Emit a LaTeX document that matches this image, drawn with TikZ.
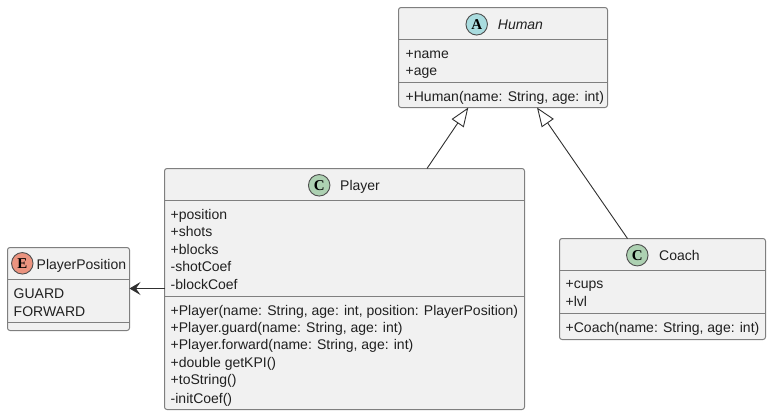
\documentclass[tikz,border=0pt]{standalone}
\usepackage{fontspec}
\setmainfont{Liberation Sans}
\newfontfamily\spotfont{Liberation Serif}
\usetikzlibrary{arrows.meta}
\definecolor{boxfill}{HTML}{F1F1F1}
\definecolor{boxline}{HTML}{7F7F7F}
\definecolor{ink}{HTML}{202020}
\definecolor{linkc}{HTML}{303030}
\definecolor{spotA}{HTML}{A9DCDF}
\definecolor{spotC}{HTML}{ADD1B2}
\definecolor{spotE}{HTML}{EB937F}
\tikzset{
  umlbox/.style={draw=boxline,fill=boxfill,line width=1pt,rounded corners=2.5pt,inner sep=0pt,outer sep=0pt,anchor=north west},
  sepline/.style={draw=boxline,line width=1pt},
  member/.style={anchor=base west,inner sep=0pt,text=ink,font=\fontsize{14}{14}\selectfont},
  title/.style={member,font=\fontsize{14}{14}\selectfont},
  spot/.style={circle,draw=ink!80,line width=.9pt,minimum size=21.5pt,inner sep=0pt,font=\spotfont\bfseries\fontsize{15}{15}\selectfont,text=black},
  inherit/.style={draw=linkc,line width=.9pt,-{Triangle[open,length=19pt,width=14.5pt,fill=white]}},
  assoc/.style={draw=linkc,line width=.9pt,-{Stealth[length=11pt,width=13pt,inset=4.5pt]}}
}
\begin{document}
\begin{tikzpicture}[x=1pt,y=-1pt]
\useasboundingbox (0,0) rectangle (771,415);
% boxes
\node[umlbox,minimum width=209pt,minimum height=100pt] (human) at (398.5,7.5) {};
\node[umlbox,minimum width=360pt,minimum height=241pt] (player) at (164.5,168.5) {};
\node[umlbox,minimum width=206pt,minimum height=101pt] (coach) at (559.5,238.5) {};
\node[umlbox,minimum width=122pt,minimum height=83pt] (enumpos) at (7.5,247.5) {};
% separators
\draw[sepline] (human.west |- 0,39.5) -- (human.east |- 0,39.5);
\draw[sepline] (human.west |- 0,82.5) -- (human.east |- 0,82.5);
\draw[sepline] (player.west |- 0,200.5) -- (player.east |- 0,200.5);
\draw[sepline] (player.west |- 0,296.5) -- (player.east |- 0,296.5);
\draw[sepline] (coach.west |- 0,270.5) -- (coach.east |- 0,270.5);
\draw[sepline] (coach.west |- 0,313.5) -- (coach.east |- 0,313.5);
\draw[sepline] (enumpos.west |- 0,279.5) -- (enumpos.east |- 0,279.5);
\draw[sepline] (enumpos.west |- 0,322.5) -- (enumpos.east |- 0,322.5);
% spots
\node[spot,fill=spotA] (spothuman) at (476.7,24.3) {A};
\node[spot,fill=spotC] (spotplayer) at (319.2,185.3) {C};
\node[spot,fill=spotC] (spotcoach) at (637.3,255.2) {C};
\node[spot,fill=spotE] (spotenum) at (22.3,263.3) {E};
% titles
\node[title,font=\fontsize{14}{14}\selectfont\itshape] (thuman) at (497.7,29) {Human};
\node[title] (tplayer) at (340,190) {Player};
\node[title] (tcoach) at (659,260) {Coach};
\node[title] (tenum) at (36.5,269) {PlayerPosition};
% Human members
\node[member] (h1) at (405.5,58) {+name};
\node[member] (h2) at (405.5,75) {+age};
\node[member] (h3) at (405.5,101) {+Human(name: String, age: int)};
% Player members
\node[member] (p1) at (170.5,219) {+position};
\node[member] (p2) at (170.5,236) {+shots};
\node[member] (p3) at (170.5,254) {+blocks};
\node[member] (p4) at (170.5,271) {-shotCoef};
\node[member] (p5) at (170.5,289) {-blockCoef};
\node[member] (p6) at (170.5,315) {+Player(name: String, age: int, position: PlayerPosition)};
\node[member] (p7) at (170.5,332) {+Player.guard(name: String, age: int)};
\node[member] (p8) at (170.5,349.5) {+Player.forward(name: String, age: int)};
\node[member] (p9) at (170.5,367) {+double getKPI()};
\node[member] (p10) at (170.5,384) {+toString()};
\node[member] (p11) at (170.5,403) {-initCoef()};
% Coach members
\node[member] (c1) at (565.5,288) {+cups};
\node[member] (c2) at (565.5,306) {+lvl};
\node[member] (c3) at (565.5,332) {+Coach(name: String, age: int)};
% Enum members
\node[member] (e1) at (13.5,298) {GUARD};
\node[member] (e2) at (13.5,316) {FORWARD};
% connectors
\draw[inherit] ([xshift=82.5pt]player.north) -- ([xshift=-34.7pt]human.south);
\draw[inherit] ([xshift=-35pt]coach.north) -- ([xshift=34pt]human.south);
\draw[assoc] ([yshift=0.5pt]player.west) -- ([yshift=0.5pt,xshift=0pt]enumpos.east |- player.west);
\end{tikzpicture}
\end{document}
